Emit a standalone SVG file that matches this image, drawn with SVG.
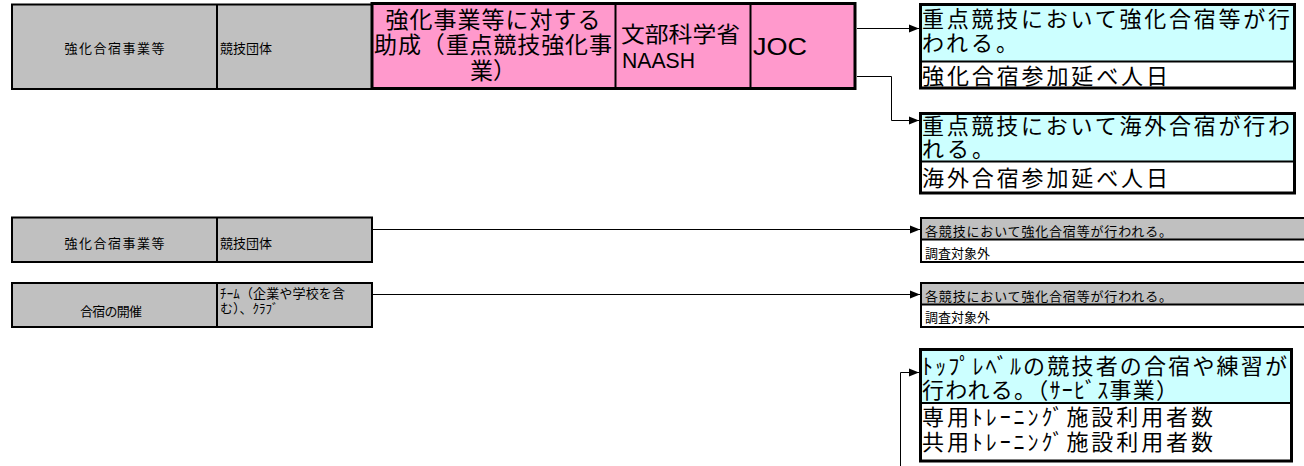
<svg xmlns="http://www.w3.org/2000/svg" width="1304" height="466" viewBox="0 0 1304 466">
<style>
.jp{font-family:"Noto Sans CJK JP","Liberation Sans",sans-serif;fill:#000}
.lat{font-family:"Liberation Sans","Noto Sans CJK JP",sans-serif;fill:#000}
.s13{font-size:13px}
.s23{font-size:22px}
.s24{font-size:23px}
.gray{fill:#C0C0C0;stroke:#000;stroke-width:2}
.pink{fill:#FF99CC;stroke:#000;stroke-width:3}
.cyan{fill:#CCFFFF}
.wbox{fill:#FFFFFF;stroke:#000;stroke-width:3}
.wbox2{fill:#FFFFFF;stroke:#000;stroke-width:2}
.div{stroke:#000;stroke-width:2;fill:none}
.conn{stroke:#000;stroke-width:1;fill:none}
</style>
<defs>
<marker id="arr" markerUnits="userSpaceOnUse" markerWidth="10" markerHeight="10" viewBox="0 0 10 10" refX="10" refY="5" orient="auto">
<path d="M0,1 L10,5 L0,9 Z" fill="#000"/>
</marker>
</defs>
<rect width="1304" height="466" fill="#FFFFFF"/>

<g id="row1-left">
<rect class="gray" x="12" y="4.5" width="360" height="84.5"/>
<line class="div" x1="217" y1="4.5" x2="217" y2="89"/>
<text class="jp s13" x="114.5" y="52.5" text-anchor="middle" textLength="100" lengthAdjust="spacing">強化合宿事業等</text>
<text class="jp s13" x="220" y="52.5">競技団体</text>
</g>

<g id="row1-pink">
<rect class="pink" x="372" y="3.5" width="483" height="85"/>
<line class="div" x1="615.5" y1="3.5" x2="615.5" y2="88.5"/>
<line class="div" x1="750.5" y1="3.5" x2="750.5" y2="88.5"/>
<text class="jp s24" x="493" y="28" text-anchor="middle" textLength="215" lengthAdjust="spacing">強化事業等に対する</text>
<text class="jp s24" x="493" y="53" text-anchor="middle" textLength="238" lengthAdjust="spacing">助成（重点競技強化事</text>
<text class="jp s24" x="493" y="79" text-anchor="middle">業）</text>
<text class="jp" font-size="22" x="621" y="42" textLength="119" lengthAdjust="spacingAndGlyphs">文部科学省</text>
<text class="lat" font-size="22" x="622" y="68" textLength="73" lengthAdjust="spacingAndGlyphs">NAASH</text>
<text class="lat" font-size="23" x="753" y="55" textLength="54" lengthAdjust="spacingAndGlyphs">JOC</text>
</g>

<g id="out1">
<rect class="wbox" x="920.5" y="4.5" width="374" height="83.5"/>
<rect class="cyan" x="922" y="6" width="371" height="55"/>
<line class="div" x1="920.5" y1="61.5" x2="1294.5" y2="61.5"/>
<text class="jp s23" x="922" y="27" textLength="368" lengthAdjust="spacing">重点競技において強化合宿等が行</text>
<text class="jp s23" x="922" y="51" textLength="96" lengthAdjust="spacing">われる。</text>
<text class="jp s23" x="922" y="84" textLength="246" lengthAdjust="spacing">強化合宿参加延べ人日</text>
</g>

<g id="out2">
<rect class="wbox" x="920.5" y="113.5" width="374" height="79.5"/>
<rect class="cyan" x="922" y="115" width="371" height="46"/>
<line class="div" x1="920.5" y1="161.5" x2="1294.5" y2="161.5"/>
<text class="jp s23" x="922" y="134" textLength="368" lengthAdjust="spacing">重点競技において海外合宿が行わ</text>
<text class="jp s23" x="922" y="157" textLength="72" lengthAdjust="spacing">れる。</text>
<text class="jp s23" x="922" y="186" textLength="246" lengthAdjust="spacing">海外合宿参加延べ人日</text>
</g>

<g id="row2-left">
<rect class="gray" x="12" y="217.5" width="360" height="44.5"/>
<line class="div" x1="217" y1="217.5" x2="217" y2="262"/>
<text class="jp s13" x="114.5" y="248" text-anchor="middle" textLength="100" lengthAdjust="spacing">強化合宿事業等</text>
<text class="jp s13" x="220" y="248">競技団体</text>
</g>

<g id="row2-right">
<rect class="wbox2" x="921" y="218" width="400" height="44"/>
<rect fill="#C0C0C0" x="922" y="219" width="382" height="20"/>
<line class="div" x1="921" y1="239.5" x2="1304" y2="239.5"/>
<text class="jp s13" x="925" y="236" textLength="247" lengthAdjust="spacing">各競技において強化合宿等が行われる。</text>
<text class="jp s13" x="925" y="257.5">調査対象外</text>
</g>

<g id="row3-left">
<rect class="gray" x="12" y="283" width="360" height="44"/>
<line class="div" x1="217" y1="283" x2="217" y2="327"/>
<text class="jp s13" x="111" y="315.5" text-anchor="middle" textLength="62" lengthAdjust="spacing">合宿の開催</text>
<text class="jp s13" x="220" y="297.5" textLength="125" lengthAdjust="spacing">ﾁｰﾑ（企業や学校を含</text>
<text class="jp s13" x="220" y="312.5">む）、ｸﾗﾌﾞ</text>
</g>

<g id="row3-right">
<rect class="wbox2" x="921" y="283" width="400" height="44"/>
<rect fill="#C0C0C0" x="922" y="284" width="382" height="20"/>
<line class="div" x1="921" y1="304.5" x2="1304" y2="304.5"/>
<text class="jp s13" x="925" y="301" textLength="247" lengthAdjust="spacing">各競技において強化合宿等が行われる。</text>
<text class="jp s13" x="925" y="322">調査対象外</text>
</g>

<g id="out4">
<rect class="wbox" x="920.5" y="349.5" width="371" height="111.5"/>
<rect class="cyan" x="922" y="351" width="368" height="51"/>
<line class="div" x1="920.5" y1="403" x2="1291.5" y2="403"/>
<text class="jp s23" x="922" y="374" textLength="365" lengthAdjust="spacing">ﾄｯﾌﾟﾚﾍﾞﾙの競技者の合宿や練習が</text>
<text class="jp s23" x="922" y="398" textLength="256" lengthAdjust="spacing">行われる。（ｻｰﾋﾞｽ事業）</text>
<text class="jp s23" x="922" y="425" textLength="291" lengthAdjust="spacing">専用ﾄﾚｰﾆﾝｸﾞ施設利用者数</text>
<text class="jp s23" x="922" y="450" textLength="291" lengthAdjust="spacing">共用ﾄﾚｰﾆﾝｸﾞ施設利用者数</text>
</g>

<g id="connectors">
<path class="conn" d="M857,28.5 H919" marker-end="url(#arr)"/>
<path class="conn" d="M857,76.5 H891.5 V120.5 H919" marker-end="url(#arr)"/>
<path class="conn" d="M373,229.5 H920" marker-end="url(#arr)"/>
<path class="conn" d="M373,294.5 H920" marker-end="url(#arr)"/>
<path class="conn" d="M900.5,466 V372.5 H919" marker-end="url(#arr)"/>
</g>
</svg>
